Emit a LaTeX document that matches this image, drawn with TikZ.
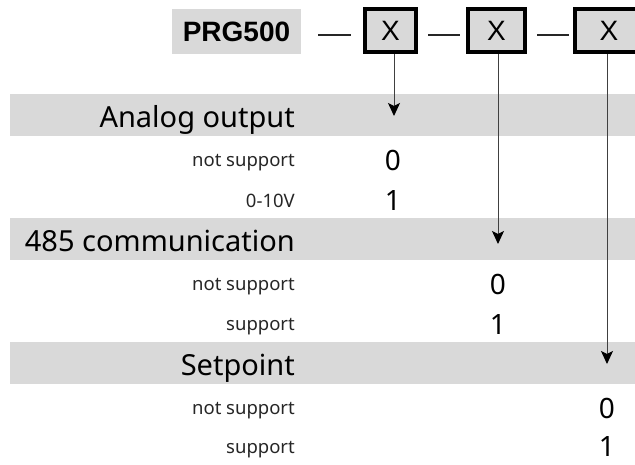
\documentclass[tikz,border=0pt]{standalone}
\usepackage{fontspec}
\setmainfont{Noto Sans}
\newfontfamily\arialfont{Liberation Sans}
\usetikzlibrary{arrows.meta}
\definecolor{bandgray}{HTML}{D9D9D9}
\definecolor{linegray}{HTML}{404040}
\tikzset{
  band/.style={fill=bandgray, draw=none, inner sep=0pt, anchor=north west, minimum width=625pt, minimum height=42pt},
  heading/.style={anchor=base east, inner sep=0pt, font=\fontsize{29}{34}\selectfont},
  label/.style={anchor=base east, inner sep=0pt, font=\fontsize{18.5}{22}\selectfont, text=black!85},
  digit/.style={anchor=base, inner sep=0pt, font=\fontsize{28}{32}\selectfont},
  codebox/.style={fill=bandgray, draw=black, line width=4pt, inner sep=0pt, minimum height=43pt, font=\arialfont\fontsize{28}{32}\selectfont},
  titlebox/.style={fill=bandgray, draw=none, inner sep=0pt, minimum width=129pt, minimum height=45pt, font=\arialfont\bfseries\fontsize{28}{32}\selectfont},
  dashline/.style={draw=black!85, line width=1.8pt},
  pointer/.style={draw=linegray, line width=1pt, -{Stealth[length=13pt,width=12pt,inset=3pt,color=black,fill=black]}}
}
\begin{document}
\begin{tikzpicture}[x=1pt,y=-1pt]
\useasboundingbox (0,0) rectangle (635,464);
\clip (0,0) rectangle (635,464);

% bands
\node[band] (band1) at (10,94) {};
\node[band] (band2) at (10,218) {};
\node[band] (band3) at (10,342) {};

% title and code boxes
\node[titlebox] (prg) at (236.5,31.5) {PRG500};
\node[codebox, minimum width=51pt] (b1) at (390.5,30.5) {X};
\node[codebox, minimum width=57pt] (b2) at (496.5,30.5) {X};
\node[codebox, minimum width=68pt] (b3) at (609,30.5) {X};

% dashes
\coordinate (d1a) at (318,35); \coordinate (d1b) at (351,35);
\coordinate (d2a) at (428,35); \coordinate (d2b) at (460,35);
\coordinate (d3a) at (537,35); \coordinate (d3b) at (569,35);
\draw[dashline] (d1a) -- (d1b);
\draw[dashline] (d2a) -- (d2b);
\draw[dashline] (d3a) -- (d3b);

% headings
\node[heading] (h1) at (295,127) {Analog output};
\node[heading] (h2) at (295,251) {485 communication};
\node[heading] (h3) at (295,375) {Setpoint};

% option labels
\node[label] (l1a) at (295,166) {not support};
\node[label] (l1b) at (295,207) {0-10V};
\node[label] (l2a) at (295,290) {not support};
\node[label] (l2b) at (295,330) {support};
\node[label] (l3a) at (295,414) {not support};
\node[label] (l3b) at (295,453) {support};

% digits
\node[digit] (v1a) at (393,170) {0};
\node[digit] (v1b) at (393,210) {1};
\node[digit] (v2a) at (498,294) {0};
\node[digit] (v2b) at (498,334) {1};
\node[digit] (v3a) at (607,418) {0};
\node[digit] (v3b) at (607,456) {1};

% arrows
\coordinate (t1) at (394,116);
\coordinate (t2) at (498,244);
\coordinate (t3) at (607,364);
\draw[pointer] (t1 |- b1.south) -- (t1);
\draw[pointer] (t2 |- b2.south) -- (t2);
\draw[pointer] (t3 |- b3.south) -- (t3);
\end{tikzpicture}
\end{document}
